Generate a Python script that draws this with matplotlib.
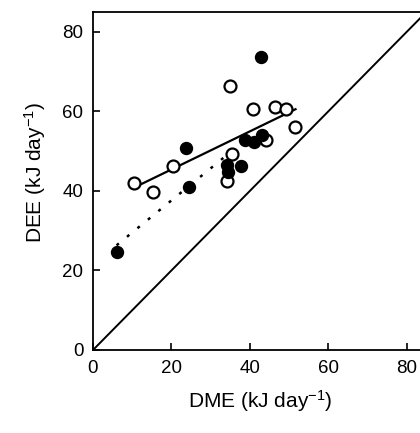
import matplotlib
matplotlib.use("Agg")
import matplotlib.pyplot as plt

plt.rcParams['font.family'] = ['Liberation Sans', 'DejaVu Sans']
plt.rcParams['mathtext.fontset'] = 'custom'
plt.rcParams['mathtext.rm'] = 'Liberation Sans'
plt.rcParams['mathtext.it'] = 'Liberation Sans'

# Filled circles (DME, DEE)
filled_x = [6.0, 23.6, 24.5, 34.1, 34.5, 37.6, 38.7, 41.1, 43.1, 42.7]
filled_y = [24.7, 50.8, 41.0, 46.5, 44.6, 46.2, 52.8, 52.3, 54.0, 73.7]

# Open circles (DME, DEE)
open_x = [10.4, 15.4, 20.5, 34.2, 35.4, 34.8, 40.8, 44.0, 46.5, 49.3, 51.5]
open_y = [42.0, 39.6, 46.3, 42.4, 49.3, 66.3, 60.5, 52.7, 61.0, 60.6, 56.1]

# Regression lines (endpoints)
fit_open_x = [11.5, 51.6]
fit_open_y = [41.3, 60.5]
fit_filled_x = [6.0, 36.0]
fit_filled_y = [26.3, 50.5]

# Line of equality
identity = [0, 100]

xticks = [0, 20, 40, 60, 80]
yticks = [0, 20, 40, 60, 80]

fig = plt.figure(figsize=(4.2, 4.33), dpi=100)
ax = fig.add_axes([93/420, 83/433, 333.6/420, 338.3/433])

ax.plot(identity, identity, color='black', lw=1.4, zorder=1)
ax.plot(fit_open_x, fit_open_y, color='black', lw=1.6, zorder=2)
ax.plot(fit_filled_x, fit_filled_y, color='black', lw=1.8, ls=(0, (1.2, 4.2)), zorder=2)

ax.plot(open_x, open_y, 'o', ms=8.6, mfc='white', mec='black', mew=1.6, zorder=3)
ax.plot(filled_x, filled_y, 'o', ms=8.6, mfc='black', mec='black', mew=1.0, zorder=4)

ax.set_xlim(0, 85)
ax.set_ylim(0, 85)
ax.set_xticks(xticks)
ax.set_yticks(yticks)
ax.tick_params(direction='in', length=5, width=1.2, labelsize=13.5, pad=7,
               top=False, right=False)
for s in ['left', 'bottom', 'top']:
    ax.spines[s].set_linewidth(1.3)
ax.spines['right'].set_visible(False)

ax.set_xlabel('DME (kJ day$^{-1}$)', fontsize=15, labelpad=8)
ax.set_ylabel('DEE (kJ day$^{-1}$)', fontsize=15)
ax.yaxis.set_label_coords(-0.135, 0.525)

fig.savefig('out.png', dpi=100)
